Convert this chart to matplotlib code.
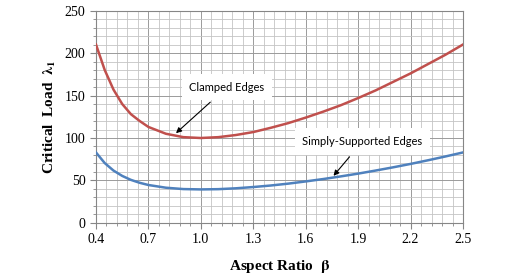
"""Critical buckling load vs. aspect ratio for clamped and simply-supported plates."""

import matplotlib
matplotlib.use("Agg")
import matplotlib.pyplot as plt
import numpy as np
from matplotlib.ticker import FixedLocator

# values
beta = [0.4, 0.45, 0.5, 0.55, 0.6, 0.65, 0.7, 0.8, 0.9, 1.0, 1.1, 1.2, 1.3, 1.4,
        1.5, 1.6, 1.7, 1.8, 1.9, 2.0, 2.1, 2.2, 2.3, 2.4, 2.5]
clamped = [210, 180, 157, 140, 128, 120, 113, 105, 101, 100, 101, 103.5, 107, 112,
           117.5, 124, 131, 138.5, 147, 156, 166, 176, 187, 198, 210]
simply = [83.0, 70.5, 61.7, 55.4, 50.7, 47.3, 44.7, 41.5, 39.9, 39.5, 39.8, 40.8, 42.3, 44.1,
          46.3, 48.9, 51.7, 54.8, 58.1, 61.7, 65.5, 69.5, 73.8, 78.3, 83.0]
x_ticks = [0.4, 0.7, 1.0, 1.3, 1.6, 1.9, 2.2, 2.5]
y_ticks = [0, 50, 100, 150, 200, 250]

RED = "#C0504D"
BLUE = "#4F81BD"

plt.rcParams["mathtext.fontset"] = "stix"

fig = plt.figure(figsize=(5.06, 2.77), dpi=100)
ax = fig.add_axes([0.1897, 0.195, 0.7253, 0.767])

ax.plot(beta, clamped, color=RED, lw=1.8, zorder=3)
ax.plot(beta, simply, color=BLUE, lw=1.8, zorder=3)

ax.set_xlim(0.4, 2.5)
ax.set_ylim(0, 250)
ax.xaxis.set_major_locator(FixedLocator(x_ticks))
ax.xaxis.set_minor_locator(FixedLocator(np.linspace(0.4, 2.5, 36)))
ax.yaxis.set_major_locator(FixedLocator(y_ticks))
ax.yaxis.set_minor_locator(FixedLocator(np.arange(0, 251, 10)))
ax.grid(which="major", color="#9a9a9a", lw=0.7, zorder=0)
ax.grid(which="minor", color="#c4c4c4", lw=0.6, zorder=0)
ax.set_axisbelow(True)
for s in ax.spines.values():
    s.set_color("#868686")
    s.set_linewidth(0.8)
ax.tick_params(which="major", length=4, color="#868686", labelsize=10)
ax.tick_params(which="minor", length=2.5, color="#868686")
ax.set_xticklabels([f"{v:.1f}" for v in x_ticks], family="Liberation Serif")
ax.set_yticklabels([f"{v}" for v in y_ticks], family="Liberation Serif")

ax.set_xlabel(r"Aspect Ratio  $\mathbf{\beta}$", family="Liberation Serif",
              fontsize=11, fontweight="bold", labelpad=8)
ax.set_ylabel(r"Critical  Load  $\mathbf{\lambda_1}$", family="Liberation Serif",
              fontsize=11, fontweight="bold", labelpad=5)

box = dict(boxstyle="square,pad=0.7", fc="white", ec="none")
arrow = dict(arrowstyle="-|>", color="black", lw=0.8, mutation_scale=8)
ax.annotate("Clamped Edges", xy=(0.846, 103.5), xytext=(1.15, 160),
            ha="center", va="center", fontsize=8, family="Lato", bbox=box,
            arrowprops=arrow, zorder=4)
ax.annotate("Simply-Supported Edges", xy=(1.749, 53), xytext=(1.925, 96),
            ha="center", va="center", fontsize=8, family="Lato", bbox=box,
            arrowprops=arrow, zorder=4)

fig.savefig("out.png", dpi=100)
